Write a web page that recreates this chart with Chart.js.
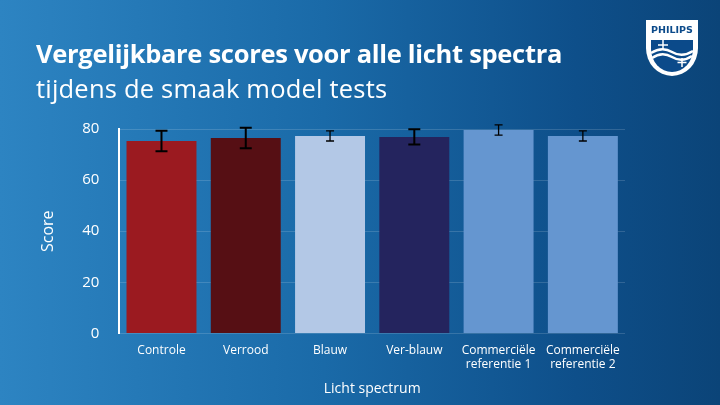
<!DOCTYPE html>
<html><head><meta charset="utf-8">
<script src="https://cdn.jsdelivr.net/npm/chart.js@4"></script>
<style>
body{margin:0;width:720px;height:405px;overflow:hidden;background:linear-gradient(90deg,#2d84c2 0%,#1a6aa8 45%,#0e4f8a 80%,#0b4478 100%);font-family:"Open Sans",sans-serif;}
#wrap{position:absolute;left:0;top:0;width:720px;height:405px;}
.t1{position:absolute;left:36px;top:36px;color:#fff;font-weight:bold;font-size:25.5px;letter-spacing:-0.3px;}
.t2{position:absolute;left:36px;top:71px;color:#fff;font-size:25.5px;letter-spacing:0.2px;}
#logo{position:absolute;left:644px;top:18px;}
</style></head><body>
<div id="wrap"><canvas id="c" width="720" height="405"></canvas></div>
<div class="t1">Vergelijkbare scores voor alle licht spectra</div>
<div class="t2">tijdens de smaak model tests</div>
<svg id="logo" width="56" height="60" viewBox="0 0 56 60">
  <path d="M2 2 H54 V30 A26 28 0 0 1 2 30 Z" fill="#fff"/>
  <text x="28" y="15" text-anchor="middle" font-family="DejaVu Sans" font-weight="bold" font-size="9.5" fill="#0b4a8a">PHILIPS</text>
  <path d="M7 22 H49 V31 A21 23 0 0 1 7 31 Z" fill="#0b4a8a"/>
  <path d="M7 35 Q18 28 28 34 T49 33" stroke="#fff" stroke-width="2.5" fill="none"/>
  <path d="M8 40 Q18 33 28 39 T48 38" stroke="#fff" stroke-width="2.5" fill="none"/>
  <path d="M19 22 v10 M14 27 h10" stroke="#fff" stroke-width="1.5"/>
  <path d="M38 40 v9 M33.5 44.5 h9" stroke="#fff" stroke-width="1.5"/>
</svg>
<script>
const categories = [['Controle'], ['Verrood'], ['Blauw'], ['Ver-blauw'], ['Commerciële', 'referentie 1'], ['Commerciële', 'referentie 2']];
const scores = [75.3, 76.5, 77.3, 76.9, 79.6, 77.3];
const errors = [4, 4, 2, 3, 2, 2];
const barColors = ['#9b1a20', '#560f14', '#b3c8e6', '#24245e', '#6596d0', '#6596d0'];
const yTicks = [0, 20, 40, 60, 80];

const errorBars = {
  id: 'errorBars',
  afterDatasetsDraw(chart) {
    const ctx = chart.ctx, y = chart.scales.y;
    const meta = chart.getDatasetMeta(0);
    ctx.save();
    ctx.strokeStyle = '#000';
    meta.data.forEach((bar, i) => {
      const top = y.getPixelForValue(scores[i] + errors[i]);
      const bot = y.getPixelForValue(scores[i] - errors[i]);
      const w = errors[i] > 2 ? 6 : 4;
      ctx.lineWidth = errors[i] > 2 ? 2 : 1.3;
      ctx.beginPath();
      ctx.moveTo(bar.x, top); ctx.lineTo(bar.x, bot);
      ctx.moveTo(bar.x - w, top); ctx.lineTo(bar.x + w, top);
      ctx.moveTo(bar.x - w, bot); ctx.lineTo(bar.x + w, bot);
      ctx.stroke();
    });
    ctx.restore();
  }
};

new Chart(document.getElementById('c'), {
  type: 'bar',
  data: { labels: categories, datasets: [{ data: scores, backgroundColor: barColors, barPercentage: 0.83, categoryPercentage: 1 }] },
  options: {
    responsive: false, animation: false,
    layout: { padding: { top: 129, left: 35, right: 95, bottom: 4 } },
    plugins: { legend: { display: false }, tooltip: { enabled: false } },
    scales: {
      y: {
        min: 0, max: 80, afterBuildTicks: ax => { ax.ticks = yTicks.map(v => ({ value: v })); },
        grid: { color: 'rgba(255,255,255,0.15)', drawTicks: false },
        border: { color: '#fff', width: 2 },
        ticks: { color: '#fff', padding: 20, font: { family: 'Open Sans', size: 15 } },
        title: { display: true, text: 'Score', color: '#fff', font: { family: 'Open Sans', size: 16 }, padding: { bottom: 4 } }
      },
      x: {
        grid: { display: false }, border: { display: false },
        ticks: { color: '#fff', maxRotation: 0, font: { family: 'Open Sans', size: 12 }, padding: 2 },
        title: { display: true, text: 'Licht spectrum', color: '#fff', font: { family: 'Open Sans', size: 14 }, padding: { top: 6 } }
      }
    }
  },
  plugins: [errorBars]
});
</script>
</body></html>
